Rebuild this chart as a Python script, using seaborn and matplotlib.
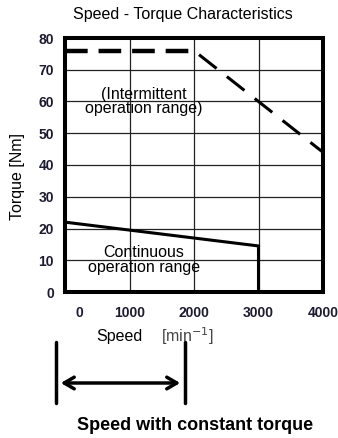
import matplotlib
matplotlib.use("Agg")
import matplotlib.pyplot as plt
import matplotlib.transforms as mtransforms
import seaborn as sns
import pandas as pd

sns.set_theme(style="white")
plt.rcParams['font.family'] = ['Liberation Sans', 'DejaVu Sans']
plt.rcParams['text.color'] = 'black'
plt.rcParams['axes.labelcolor'] = 'black'

# Data
speed_ticks = [0, 1000, 2000, 3000, 4000]
torque_ticks = [0, 10, 20, 30, 40, 50, 60, 70, 80]
interm_speed_flat = [0, 2000]
interm_torque_flat = [76, 76]
interm_speed_slope = [2000, 4000]
interm_torque_slope = [76, 44]
cont_speed = [0, 3000, 3000]
cont_torque = [22, 14.5, 0]

fig = plt.figure(figsize=(3.38, 4.38), dpi=100)
ax = fig.add_axes([65/338, 146/438, 258/338, 254/438])

df_flat = pd.DataFrame({"speed": interm_speed_flat, "torque": interm_torque_flat})
df_slope = pd.DataFrame({"speed": interm_speed_slope, "torque": interm_torque_slope})
df_cont = pd.DataFrame({"speed": cont_speed, "torque": cont_torque})

sns.lineplot(data=df_flat, x="speed", y="torque", ax=ax, color="black",
             lw=3.2, linestyle=(0, (5.1, 2.45)), sort=False, estimator=None)
sns.lineplot(data=df_slope, x="speed", y="torque", ax=ax, color="black",
             lw=2.2, linestyle=(9.5, (7.3, 4.3)), sort=False, estimator=None)
ax.plot(df_cont["speed"], df_cont["torque"], color="black", lw=2.2, solid_joinstyle="miter")

ax.set_xlim(0, 4000)
ax.set_ylim(0, 80)
ax.set_xticks(speed_ticks)
ax.set_yticks(torque_ticks)
tick_color = "#1c1c2e"
ax.set_xticklabels([str(v) for v in speed_ticks], fontweight="bold", fontsize=10, color=tick_color)
ax.set_yticklabels([str(v) for v in torque_ticks], fontweight="bold", fontsize=10, color=tick_color)
ax.tick_params(axis="both", length=0)
ax.tick_params(axis="x", pad=10)
ax.tick_params(axis="y", pad=8)
ax.grid(True, color="#222222", lw=0.9)
ax.set_axisbelow(True)
for s in ax.spines.values():
    s.set_visible(True)
    s.set_color("black")
    s.set_linewidth(2.9)

# shift the "0" label a bit right like the reference
lab0 = ax.get_xticklabels()[0]
lab0.set_transform(lab0.get_transform() + mtransforms.ScaledTranslation(14/100, 0, fig.dpi_scale_trans))

ax.set_xlabel("")
ax.set_ylabel("")
fig.text(18/338, 1 - 176/438, "Torque [Nm]", rotation=90, ha="center", va="center", fontsize=11.5)
fig.text(183/338, 1 - 15/438, "Speed - Torque Characteristics", ha="center", va="center", fontsize=11.5)
fig.text(119/338, 1 - 336/438, "Speed", ha="center", va="center", fontsize=11.5)
fig.text(187/338, 1 - 336/438, r"[min$^{-1}$]", ha="center", va="center", fontsize=11.5, color="#444444")

ax.text(1225, 60, "(Intermittent\noperation range)", ha="center", va="center", fontsize=11.5,
        linespacing=1.0)
ax.text(1225, 10, "Continuous\noperation range", ha="center", va="center", fontsize=11.5,
        linespacing=1.0)

# arrow annotation
fig.add_artist(plt.Line2D([56/338, 56/338], [1 - 342/438, 1 - 403/438], color="black", lw=2.5,
                          transform=fig.transFigure))
fig.add_artist(plt.Line2D([185/338, 185/338], [1 - 342/438, 1 - 403/438], color="black", lw=2.5,
                          transform=fig.transFigure))
ax.annotate("", xy=(58/338, 1 - 383/438), xytext=(183/338, 1 - 383/438),
            xycoords="figure fraction", textcoords="figure fraction",
            arrowprops=dict(arrowstyle="<->,head_length=0.6,head_width=0.35", lw=2.5, color="black"))
fig.text(195/338, 1 - 425/438, "Speed with constant torque", ha="center", va="center",
         fontsize=13, fontweight="bold")

fig.savefig("out.png", dpi=100)
